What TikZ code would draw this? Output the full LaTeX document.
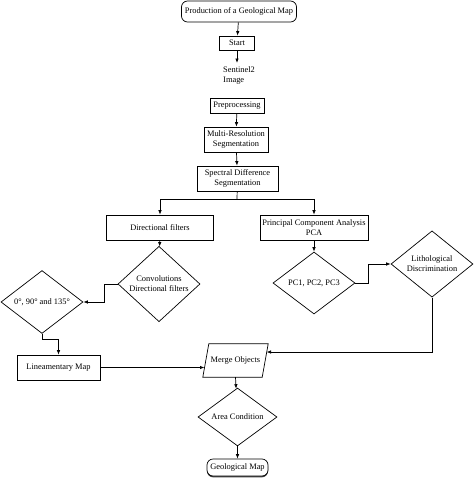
\documentclass[tikz,border=0pt]{standalone}
\usepackage{fontspec}
\setmainfont{Liberation Serif}
\usetikzlibrary{shapes.geometric,arrows.meta,calc,shadows}
\begin{document}
\begin{tikzpicture}[x=1pt,y=-1pt,
  every node/.style={font=\fontsize{8.4}{10}\selectfont, align=center, inner sep=1pt},
  box/.style={draw, line width=0.7pt, minimum width=#1},
  rbox/.style={draw, line width=0.7pt, rounded corners=6pt, minimum width=#1, fill=white},
  dia/.style={draw, line width=0.7pt, diamond, inner sep=0pt, minimum width=82pt, minimum height=62pt},
  arr/.style={line width=0.7pt, -{Latex[length=4.5pt,width=3.5pt]}},
  ln/.style={line width=0.7pt}]
\useasboundingbox (0,0) rectangle (474,479);
\node[rbox=115pt, minimum height=21pt] (top) at (239,11.5) {Production of a Geological Map};
\node[box=35pt, minimum height=14pt] (start) at (237,43) {Start};
\coordinate (s2) at (237,63);
\node[anchor=west, align=left] (sent) at (222,75) {Sentinel2\\Image};
\node[box=54pt, minimum height=15pt] (pre) at (237,105.5) {Preprocessing};
\node[box=64pt, minimum height=25pt] (multi) at (236,139.5) {Multi-Resolution\\Segmentation};
\node[box=81pt, minimum height=25pt] (spec) at (237.5,178.5) {Spectral Difference\\Segmentation};
\coordinate (br) at (237,199);
\node[box=107pt, minimum height=25pt] (dir) at (160,227.5) {Directional filters};
\node[box=108pt, minimum height=25pt] (pca) at (314,227.5) {Principal Component Analysis\\PCA};
\node[dia] (conv) at (159,284) {Convolutions\\Directional filters};
\node[dia] (pc) at (314,283) {PC1, PC2, PC3};
\node[dia] (lith) at (432,264) {Lithological\\Discrimination};
\node[dia] (deg) at (42,302) {0°, 90° and 135°};
\node[box=83pt, minimum height=25pt] (lin) at (58.5,367.5) {Lineamentary Map};
\node[minimum width=65pt, minimum height=33pt, inner sep=0pt] (merge) at (235.5,360.5) {Merge Objects};
\draw[ln] ($(merge.north west)+(6,0)$) -- (merge.north east) -- ($(merge.south east)+(-6,0)$) -- (merge.south west) -- cycle;
\coordinate (mr) at (266.5,352);
\coordinate (ml) at (204.5,367.5);
\node[dia, minimum width=79pt, minimum height=52pt] (area) at (237.5,417) {Area Condition};
\node[rbox=61pt, minimum height=17pt, drop shadow={shadow xshift=0pt, shadow yshift=-1.3pt, fill=black!75, opacity=1}] (geo) at (237.5,467.5) {Geological Map};

\draw[arr] (top) -- (start);
\draw[arr] (start) -- (s2);
\draw[arr] (pre) -- (multi);
\draw[arr] (multi) -- (spec);
\draw[ln] (spec) -- (br);
\draw[arr] (br) -| (dir);
\draw[arr] (br) -| (pca);
\draw[arr] (dir) -- (conv);
\draw[arr] (pca) -- (pc);
\draw[arr] (conv.west) -- ++(-13,0) |- (deg.east);
\draw[arr] (deg.south) -- ++(0,6) -| (lin.north);
\draw[arr] (pc.east) -- ++(13,0) |- (lith.west);
\draw[arr] (lith.south) |- (mr);
\draw[arr] (lin.east) -- (ml);
\draw[arr] (merge.south) -- (area);
\draw[arr] (area) -- (geo);
\end{tikzpicture}
\end{document}
